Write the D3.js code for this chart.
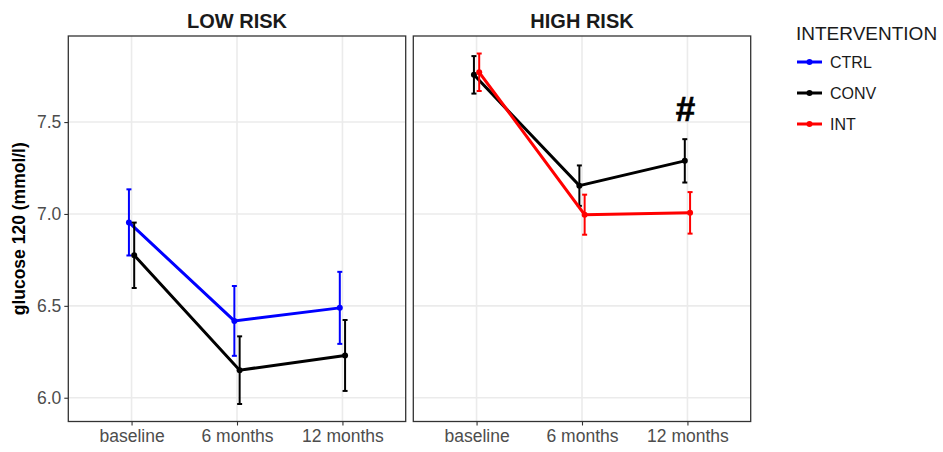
<!DOCTYPE html>
<html>
<head>
<meta charset="utf-8">
<script src="https://cdn.jsdelivr.net/npm/d3@7"></script>
<style>
  html, body { margin: 0; padding: 0; background: #fff; }
  svg { display: block; font-family: "Liberation Sans", Arial, sans-serif; }
</style>
</head>
<body>
<svg id="chart" width="943" height="452"></svg>
<script>
// ---------- data ----------
const categories = ["baseline", "6 months", "12 months"];
const panels = ["LOW RISK", "HIGH RISK"];
const groups = ["CTRL", "CONV", "INT"];
const groupColors = ["#0000FF", "#000000", "#FF0000"];
const yTicks = [6.0, 6.5, 7.0, 7.5];
const yTitle = "glucose 120 (mmol/l)";
const legendTitle = "INTERVENTION";

// LOW RISK panel
const lowCtrlMean = [6.954, 6.418, 6.489];
const lowCtrlSe   = [0.180, 0.190, 0.196];
const lowConvMean = [6.775, 6.150, 6.230];
const lowConvSe   = [0.178, 0.184, 0.193];
// HIGH RISK panel
const highConvMean = [7.757, 7.154, 7.289];
const highConvSe   = [0.102, 0.110, 0.118];
const highIntMean  = [7.771, 6.996, 7.006];
const highIntSe    = [0.102, 0.109, 0.113];

// significance marker
const markPanel = "HIGH RISK", markCategory = "12 months", markText = "#";

const series = [
  { panel: "LOW RISK",  group: "CTRL", mean: lowCtrlMean,  se: lowCtrlSe },
  { panel: "LOW RISK",  group: "CONV", mean: lowConvMean,  se: lowConvSe },
  { panel: "HIGH RISK", group: "CONV", mean: highConvMean, se: highConvSe },
  { panel: "HIGH RISK", group: "INT",  mean: highIntMean,  se: highIntSe }
];

// ---------- layout ----------
const svg = d3.select("#chart");
const panelTop = 36, panelBottom = 421.5;
const panelX = [[68.3, 405.7], [413.3, 750.7]];
const color = d3.scaleOrdinal().domain(groups).range(groupColors);

// y scale with ggplot-style 5% expansion
let lo = d3.min(series, s => d3.min(s.mean.map((m, i) => m - s.se[i])));
let hi = d3.max(series, s => d3.max(s.mean.map((m, i) => m + s.se[i])));
const pad = (hi - lo) * 0.05;
const y = d3.scaleLinear().domain([lo - pad, hi + pad]).range([panelBottom, panelTop]);

panels.forEach((pName, pi) => {
  const [x0, x1] = panelX[pi];
  const x = d3.scalePoint().domain(categories).range([x0, x1]).padding(0.6);
  const step = x.step();
  const g = svg.append("g");

  // grid
  g.selectAll(".gy").data(yTicks).enter().append("line")
    .attr("x1", x0).attr("x2", x1)
    .attr("y1", d => y(d)).attr("y2", d => y(d))
    .attr("stroke", "#ebebeb").attr("stroke-width", 1.6);
  g.selectAll(".gx").data(categories).enter().append("line")
    .attr("x1", d => x(d)).attr("x2", d => x(d))
    .attr("y1", panelTop).attr("y2", panelBottom)
    .attr("stroke", "#ebebeb").attr("stroke-width", 1.6);

  // x axis
  const xa = g.append("g").attr("transform", `translate(0,${panelBottom})`)
    .call(d3.axisBottom(x).tickSize(4).tickPadding(4));
  xa.select(".domain").remove();
  xa.selectAll(".tick line").attr("stroke", "#333").attr("stroke-width", 1.1);
  xa.selectAll(".tick text").attr("fill", "#4d4d4d")
    .style("font-size", "17.5px").style("font-family", "Liberation Sans, Arial, sans-serif");

  // y axis only on first panel
  if (pi === 0) {
    const ya = g.append("g").attr("transform", `translate(${x0},0)`)
      .call(d3.axisLeft(y).tickValues(yTicks).tickFormat(d3.format(".1f")).tickSize(4).tickPadding(3));
    ya.select(".domain").remove();
    ya.selectAll(".tick line").attr("stroke", "#333").attr("stroke-width", 1.1);
    ya.selectAll(".tick text").attr("fill", "#4d4d4d")
      .style("font-size", "17.5px").style("font-family", "Liberation Sans, Arial, sans-serif");
  }

  // series
  const ps = series.filter(s => s.panel === pName);
  const dodgeW = 0.05 * step;
  ps.forEach((s, si) => {
    const off = (si - (ps.length - 1) / 2) * dodgeW;
    const pts = categories.map((c, i) => ({ x: x(c) + off, m: s.mean[i], se: s.se[i] }));
    const col = color(s.group);
    // error bars
    pts.forEach(p => {
      const yt = y(p.m + p.se), yb = y(p.m - p.se);
      g.append("line").attr("x1", p.x).attr("x2", p.x).attr("y1", yt).attr("y2", yb)
        .attr("stroke", col).attr("stroke-width", 2);
      [yt, yb].forEach(yy => g.append("line").attr("x1", p.x - 2.5).attr("x2", p.x + 2.5)
        .attr("y1", yy).attr("y2", yy).attr("stroke", col).attr("stroke-width", 2));
    });
    g.append("path").datum(pts)
      .attr("d", d3.line().x(p => p.x).y(p => y(p.m)))
      .attr("fill", "none").attr("stroke", col).attr("stroke-width", 3);
    g.selectAll(null).data(pts).enter().append("circle")
      .attr("cx", p => p.x).attr("cy", p => y(p.m)).attr("r", 3).attr("fill", col);
  });

  // marker
  if (pName === markPanel) {
    const s = ps.find(q => q.group === "CONV");
    const i = categories.indexOf(markCategory);
    g.append("text").attr("x", x(markCategory) - 2).attr("y", y(s.mean[i] + s.se[i]) - 18)
      .attr("text-anchor", "middle").attr("font-weight", "bold").style("font-size", "35px")
      .attr("stroke", "#000").attr("stroke-width", 0.6)
      .text(markText);
  }

  // border
  g.append("rect").attr("x", x0).attr("y", panelTop).attr("width", x1 - x0)
    .attr("height", panelBottom - panelTop).attr("fill", "none")
    .attr("stroke", "#333").attr("stroke-width", 1.3);

  // strip title
  g.append("text").attr("x", (x0 + x1) / 2).attr("y", 27.5).attr("text-anchor", "middle")
    .attr("font-weight", "bold").style("font-size", "20px").attr("fill", "#1a1a1a").text(pName);
});

// y title
svg.append("text")
  .attr("transform", `translate(25,${(panelTop + panelBottom) / 2}) rotate(-90)`)
  .attr("text-anchor", "middle").attr("font-weight", "bold").style("font-size", "17.5px")
  .text(yTitle);

// legend
const lg = svg.append("g");
lg.append("text").attr("x", 796).attr("y", 40).style("font-size", "19px").attr("fill", "#1a1a1a")
  .text(legendTitle);
groups.forEach((gName, i) => {
  const yy = 62 + i * 31;
  lg.append("line").attr("x1", 797).attr("x2", 822).attr("y1", yy).attr("y2", yy)
    .attr("stroke", color(gName)).attr("stroke-width", 3);
  lg.append("circle").attr("cx", 809.5).attr("cy", yy).attr("r", 3).attr("fill", color(gName));
  lg.append("text").attr("x", 830).attr("y", yy + 6).style("font-size", "16px").attr("fill", "#1a1a1a")
    .text(gName);
});
</script>
</body>
</html>
